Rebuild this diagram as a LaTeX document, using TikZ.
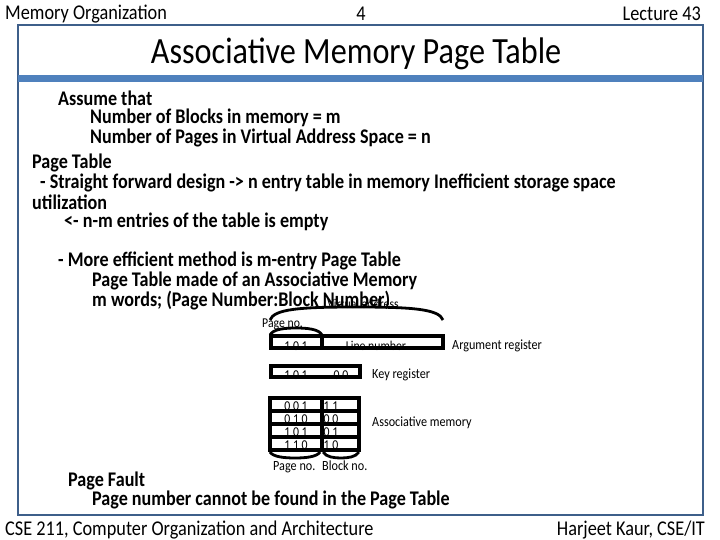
\documentclass[tikz,border=0pt]{standalone}
\usepackage{fontspec}
\setmainfont[FakeStretch=0.87]{Carlito}
\definecolor{frameblue}{HTML}{3E5F8A}
\definecolor{bandblue}{HTML}{4F81BD}
\begin{document}
\begin{tikzpicture}[x=1pt,y=-1pt,
  hdr/.style={inner sep=0pt,font=\fontsize{21}{21}\selectfont},
  body/.style={inner sep=0pt,anchor=west,font=\fontsize{20.8}{20.8}\selectfont\bfseries},
  tiny/.style={inner sep=0pt,anchor=base,font=\fontsize{13.5}{13.5}\selectfont},
  lbl/.style={inner sep=0pt,anchor=base west,font=\fontsize{14}{14}\selectfont},
  reg/.style={draw=black,line width=3.6pt},
  brace/.style={draw=black,line width=2.8pt}]
\useasboundingbox (0,0) rectangle (720,540);
\fill[white] (0,0) rectangle (720,540);
% header
\node[hdr,anchor=west] (h1) at (5,14) {Memory Organization};
\node[hdr] (h2) at (361,14) {4};
\node[hdr,anchor=east] (h3) at (701,14) {Lecture 43};
% frame
\draw[frameblue,line width=2.5pt] (18,25) rectangle (703,515);
\fill[bandblue] (18,75) rectangle (703,82);
\node[inner sep=0pt,font=\fontsize{37}{37}\selectfont] (title) at (356,54) {Associative Memory Page Table};
% body
\node[body] (b1) at (58,98) {Assume that};
\node[body] (b2) at (90,118) {Number of Blocks in memory = m};
\node[body] (b3) at (90,138) {Number of Pages in Virtual Address Space = n};
\node[body] (b4) at (32,163) {Page Table};
\node[body] (b5) at (40,183) {- Straight forward design -> n entry table in memory Inefficient storage space};
\node[body] (b6) at (32,202) {utilization};
\node[body] (b7) at (64,222) {<- n-m entries of the table is empty};
\node[body] (b8) at (58,261) {- More efficient method is m-entry Page Table};
\node[body] (b9) at (92,281) {Page Table made of an Associative Memory};
\node[body] (b10) at (92,301) {m words; (Page Number:Block Number)};
\node[body] (b11) at (68,481) {Page Fault};
\node[body] (b12) at (92,500) {Page number cannot be found in the Page Table};
% footer
\node[hdr,anchor=west] (f1) at (5,530) {CSE 211, Computer Organization and Architecture};
\node[hdr,anchor=east] (f2) at (705,530) {Harjeet Kaur, CSE/IT};
% diagram
\node[tiny] (va) at (363,308) {Virtual address};
\draw[brace] (270,320) .. controls (274,309) and (300,307) .. (356,307) .. controls (412,307) and (439,309) .. (443,320);
\node[tiny,anchor=base west] (pn) at (262,327) {Page no.};
\draw[brace] (270,335) .. controls (273,329) and (285,328) .. (296,328) .. controls (307,328) and (319,329) .. (322,335);
% argument register
\node[tiny] (a1) at (296,350) {1 0 1};
\node[tiny] (a2) at (376,350) {Line number};
\draw[reg] (271,336) rectangle (443,348);
\draw[reg] (322,336) -- (322,348);
\node[lbl] (argl) at (452,349) {Argument register};
% key register
\node[tiny] (k1) at (296,379) {1 0 1};
\node[tiny] (k2) at (341,379) {0 0};
\draw[reg] (271,366) rectangle (360,377);
\node[lbl] (keyl) at (372,378) {Key register};
% associative memory
\node[tiny] (m1a) at (296,410) {0 0 1};
\node[tiny] (m1b) at (331,410) {1 1};
\node[tiny] (m2a) at (296,423) {0 1 0};
\node[tiny] (m2b) at (331,423) {0 0};
\node[tiny] (m3a) at (296,436) {1 0 1};
\node[tiny] (m3b) at (331,436) {0 1};
\node[tiny] (m4a) at (296,449) {1 1 0};
\node[tiny] (m4b) at (331,449) {1 0};
\draw[reg] (270,398) rectangle (359,450);
\draw[reg] (322,398) -- (322,450);
\draw[reg] (270,411) -- (359,411);
\draw[reg] (270,424) -- (359,424);
\draw[reg] (270,437) -- (359,437);
\node[lbl] (aml) at (372,426) {Associative memory};
\draw[brace] (270,452) .. controls (273,457) and (285,458) .. (295,458) .. controls (305,458) and (317,457) .. (320,452);
\draw[brace] (323,452) .. controls (326,457) and (334,458) .. (341,458) .. controls (348,458) and (356,457) .. (359,452);
\node[lbl] (pnl) at (273,470) {Page no.};
\node[lbl] (bnl) at (322,470) {Block no.};
\end{tikzpicture}
\end{document}
